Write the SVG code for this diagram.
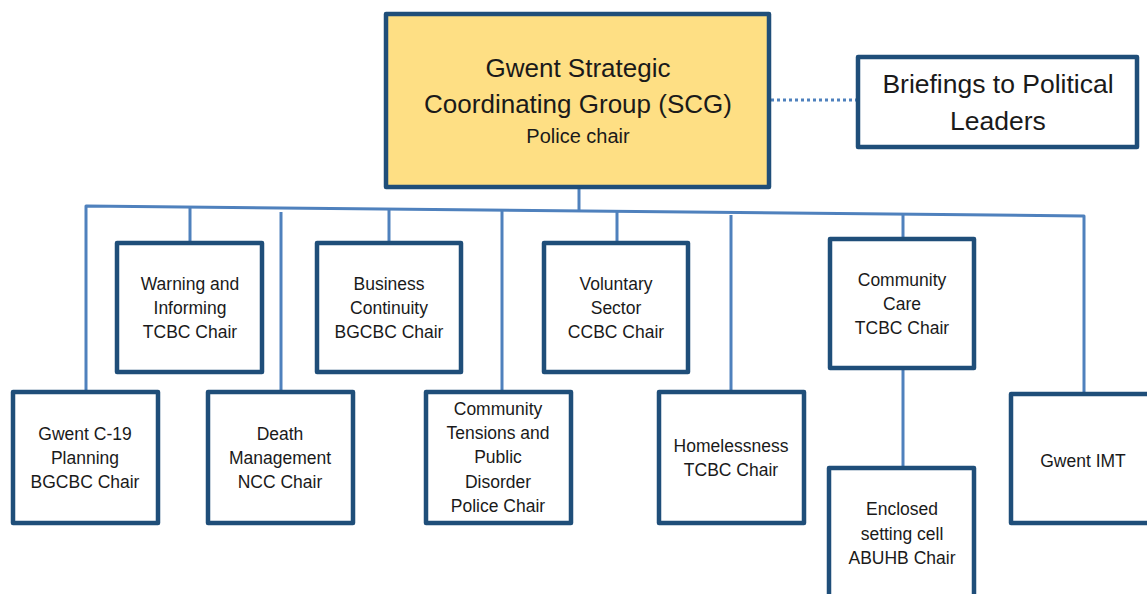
<svg xmlns="http://www.w3.org/2000/svg" width="1147" height="594" viewBox="0 0 1147 594">
<style>
.box{fill:#ffffff;stroke:#1F4E79;stroke-width:4.5;stroke-linejoin:round}
.scg{fill:#FEDF84;stroke:#1F4E79;stroke-width:4.5;stroke-linejoin:round}
.c{stroke:#4F81BD;stroke-width:3;fill:none;stroke-linejoin:round}
.dot{stroke:#4F81BD;stroke-width:3;fill:none;stroke-dasharray:3 3}
text{font-family:"Liberation Sans",Arial,sans-serif;fill:#1a1a1a;text-anchor:middle}
.s{font-size:17.5px}
.big{font-size:26px}
</style>
<rect width="1147" height="594" fill="#ffffff"/>
<g id="connectors">
  <line class="dot" x1="771" y1="100" x2="858" y2="100"/>
  <line class="c" x1="579" y1="187" x2="579" y2="211"/>
  <polyline class="c" points="86,392 86,206 1084,216 1084,394"/>
  <line class="c" x1="190" y1="207" x2="190" y2="243"/>
  <line class="c" x1="281" y1="212" x2="281" y2="392"/>
  <line class="c" x1="389" y1="209" x2="389" y2="243"/>
  <line class="c" x1="502" y1="210" x2="502" y2="392"/>
  <line class="c" x1="617" y1="211" x2="617" y2="243"/>
  <line class="c" x1="731" y1="215" x2="731" y2="392"/>
  <line class="c" x1="903" y1="214" x2="903" y2="239"/>
  <line class="c" x1="903" y1="368" x2="903" y2="468"/>
</g>
<g id="scg">
  <rect class="scg" x="386" y="14" width="383" height="173"/>
  <text class="big" x="578" y="77">Gwent Strategic</text>
  <text class="big" x="578" y="113">Coordinating Group (SCG)</text>
  <text x="578" y="143" style="font-size:20px">Police chair</text>
</g>
<g id="briefings">
  <rect class="box" x="858" y="57" width="279" height="90"/>
  <text x="998" y="93" style="font-size:26.5px">Briefings to Political</text>
  <text x="998" y="130" style="font-size:26.5px">Leaders</text>
</g>
<g id="warning">
  <rect class="box" x="117" y="243" width="145" height="129"/>
  <text class="s" x="190" y="290">Warning and</text>
  <text class="s" x="190" y="314">Informing</text>
  <text class="s" x="190" y="338">TCBC Chair</text>
</g>
<g id="business">
  <rect class="box" x="317" y="243" width="144" height="129"/>
  <text class="s" x="389" y="290">Business</text>
  <text class="s" x="389" y="314">Continuity</text>
  <text class="s" x="389" y="338">BGCBC Chair</text>
</g>
<g id="voluntary">
  <rect class="box" x="544" y="243" width="144" height="129"/>
  <text class="s" x="616" y="290">Voluntary</text>
  <text class="s" x="616" y="314">Sector</text>
  <text class="s" x="616" y="338">CCBC Chair</text>
</g>
<g id="community-care">
  <rect class="box" x="830" y="239" width="144" height="129"/>
  <text class="s" x="902" y="286">Community</text>
  <text class="s" x="902" y="310">Care</text>
  <text class="s" x="902" y="334">TCBC Chair</text>
</g>
<g id="c19">
  <rect class="box" x="13" y="392" width="145" height="131"/>
  <text class="s" x="85" y="440">Gwent C-19</text>
  <text class="s" x="85" y="464">Planning</text>
  <text class="s" x="85" y="488">BGCBC Chair</text>
</g>
<g id="death">
  <rect class="box" x="208" y="392" width="145" height="131"/>
  <text class="s" x="280" y="440">Death</text>
  <text class="s" x="280" y="464">Management</text>
  <text class="s" x="280" y="488">NCC Chair</text>
</g>
<g id="tensions">
  <rect class="box" x="426" y="392" width="145" height="131"/>
  <text class="s" x="498" y="415">Community</text>
  <text class="s" x="498" y="439">Tensions and</text>
  <text class="s" x="498" y="463">Public</text>
  <text class="s" x="498" y="488">Disorder</text>
  <text class="s" x="498" y="512">Police Chair</text>
</g>
<g id="homelessness">
  <rect class="box" x="659" y="392" width="145" height="131"/>
  <text class="s" x="731" y="452">Homelessness</text>
  <text class="s" x="731" y="476">TCBC Chair</text>
</g>
<g id="enclosed">
  <rect class="box" x="829" y="468" width="145" height="150"/>
  <text class="s" x="902" y="515">Enclosed</text>
  <text class="s" x="902" y="540">setting cell</text>
  <text class="s" x="902" y="564">ABUHB Chair</text>
</g>
<g id="imt">
  <rect class="box" x="1011" y="394" width="160" height="129"/>
  <text class="s" x="1083" y="467">Gwent IMT</text>
</g>
</svg>
